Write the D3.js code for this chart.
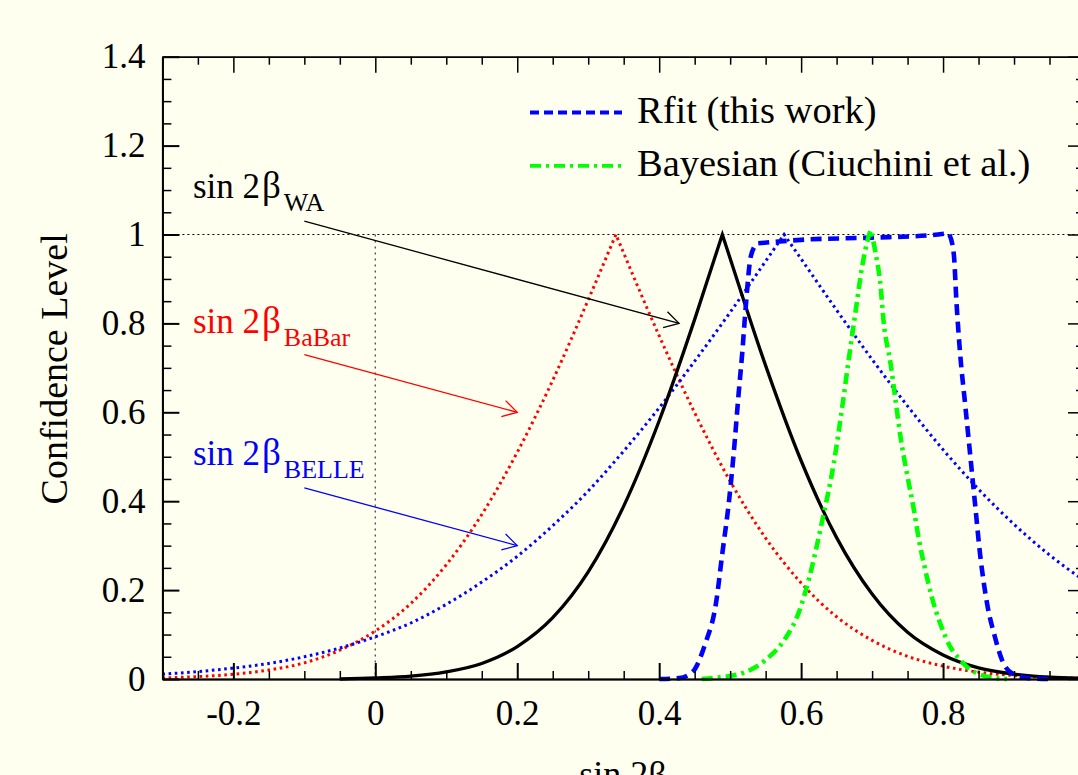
<!DOCTYPE html>
<html>
<head>
<meta charset="utf-8">
<title>sin 2beta confidence level</title>
<script src="https://cdn.jsdelivr.net/npm/d3@7"></script>
<style>
  body { margin: 0; background: #fffff0; }
  svg { display: block; font-family: "Liberation Serif", "Times New Roman", serif; }
  .axis path, .axis line { stroke: #000; }
  .axis text { fill: #000; font-family: "Liberation Serif", "Times New Roman", serif; }
  .curve { fill: none; }
</style>
</head>
<body>
<script>
// confidence level curves, [sin2beta, CL]
const waPoints = [[-0.05,0],[0,0.0024],[0.05,0.0064],[0.1,0.016],[0.15,0.035],[0.2,0.073],[0.25,0.138],[0.3,0.241],[0.35,0.389],[0.4,0.581],[0.45,0.809],[0.489,1.0],[0.5,0.946],[0.55,0.705],[0.6,0.491],[0.65,0.318],[0.7,0.191],[0.75,0.105],[0.8,0.054],[0.85,0.025],[0.9,0.011],[0.95,0.0042],[1.0,0.0015]];
const babarPoints = [[-0.3,0.0024],[-0.25,0.0054],[-0.2,0.0107],[-0.15,0.0203],[-0.1,0.0363],[-0.05,0.0649],[0,0.108],[0.05,0.170],[0.1,0.257],[0.15,0.370],[0.2,0.510],[0.25,0.672],[0.3,0.853],[0.339,1.0],[0.35,0.958],[0.4,0.772],[0.45,0.599],[0.5,0.445],[0.55,0.317],[0.6,0.216],[0.65,0.140],[0.7,0.087],[0.75,0.051],[0.8,0.029],[0.85,0.0155],[0.9,0.0078],[0.95,0.0037],[1.0,0.0016]];
const bellePoints = [[-0.3,0.011],[-0.25,0.0166],[-0.2,0.0246],[-0.15,0.035],[-0.1,0.050],[-0.05,0.0697],[0,0.095],[0.05,0.126],[0.1,0.168],[0.15,0.218],[0.2,0.276],[0.25,0.345],[0.3,0.423],[0.35,0.513],[0.4,0.610],[0.45,0.715],[0.5,0.825],[0.55,0.940],[0.576,1.0],[0.6,0.945],[0.65,0.830],[0.7,0.719],[0.75,0.614],[0.8,0.516],[0.85,0.427],[0.9,0.348],[0.95,0.279],[1.0,0.220]];
const rfitPoints = [[0.40,0],[0.428,0.002],[0.447,0.016],[0.465,0.08],[0.48,0.17],[0.489,0.283],[0.498,0.395],[0.505,0.508],[0.512,0.643],[0.517,0.733],[0.522,0.838],[0.529,0.95],[0.538,0.98],[0.6,0.988],[0.7,0.993],[0.78,0.998],[0.808,1.003],[0.815,0.958],[0.819,0.845],[0.824,0.733],[0.831,0.62],[0.838,0.508],[0.845,0.395],[0.852,0.283],[0.862,0.17],[0.873,0.095],[0.883,0.043],[0.897,0.013],[0.92,0.002],[0.95,0]];
const bayesPoints = [[0.46,0],[0.475,0.002],[0.517,0.013],[0.55,0.043],[0.578,0.092],[0.597,0.151],[0.611,0.225],[0.63,0.358],[0.646,0.485],[0.658,0.613],[0.667,0.718],[0.677,0.83],[0.686,0.928],[0.695,0.995],[0.698,1.01],[0.705,0.958],[0.712,0.883],[0.716,0.808],[0.726,0.71],[0.733,0.628],[0.74,0.545],[0.749,0.463],[0.759,0.38],[0.766,0.313],[0.775,0.245],[0.784,0.185],[0.796,0.125],[0.81,0.073],[0.824,0.043],[0.836,0.024],[0.873,0.002],[0.89,0]];

const xMajor = [-0.2, 0, 0.2, 0.4, 0.6, 0.8, 1.0];
const xLabels = ["-0.2", "0", "0.2", "0.4", "0.6", "0.8", ""];
const yMajor = [0, 0.2, 0.4, 0.6, 0.8, 1.0, 1.2, 1.4];
const yLabels = ["0", "0.2", "0.4", "0.6", "0.8", "1", "1.2", "1.4"];
const legendLabels = ["Rfit (this work)", "Bayesian (Ciuchini et al.)"];

// annotation labels: subscript, colour, label pos, arrow from, arrow to (data units)
const notes = [
  {sub: "WA",    color: "#000",    at: [-0.257, 1.081], from: [-0.1, 1.03], to: [0.428, 0.80]},
  {sub: "BaBar", color: "#ff0000", at: [-0.257, 0.779], from: [-0.1, 0.73], to: [0.2, 0.6]},
  {sub: "BELLE", color: "#0000ff", at: [-0.257, 0.481], from: [-0.1, 0.43], to: [0.2, 0.3]}
];

const width = 1078, height = 775;

const x = d3.scaleLinear().domain([-0.3, 1.0]).range([162.4, 1085]);
const y = d3.scaleLinear().domain([0, 1.4]).range([679, 56.7]);

const svg = d3.select('body').append('svg')
    .attr('width', width)
    .attr('height', height);

svg.append('rect')
    .attr('width', width).attr('height', height)
    .attr('fill', '#fffff0');

// reference lines
svg.append('line')
    .attr('x1', x(-0.3)).attr('x2', x(1.0))
    .attr('y1', y(1)).attr('y2', y(1))
    .attr('stroke', '#000').attr('stroke-width', 1.2)
    .attr('stroke-dasharray', '2,3');

svg.append('line')
    .attr('x1', x(0)).attr('x2', x(0))
    .attr('y1', y(1)).attr('y2', y(0))
    .attr('stroke', '#555').attr('stroke-width', 1.4)
    .attr('stroke-dasharray', '2,4');

// draw a curve keeping sharp peaks: split at the given indices
const line = d3.line().x(d => x(d[0])).y(d => y(d[1])).curve(d3.curveMonotoneX);
function cuspPath(points, splits) {
  let d = '', start = 0;
  splits.concat([points.length - 1]).forEach((end, i) => {
    let seg = line(points.slice(start, end + 1));
    if (i > 0) seg = seg.replace(/^M[^A-Za-z]*/, '');
    d += seg;
    start = end;
  });
  return d;
}
function peakIndex(points) {
  return d3.maxIndex(points, d => d[1]);
}

svg.append('path').attr('class', 'curve')
    .attr('d', cuspPath(babarPoints, [peakIndex(babarPoints)]))
    .attr('stroke', '#ff0000').attr('stroke-width', 3)
    .attr('stroke-dasharray', '2.6,3.6');

svg.append('path').attr('class', 'curve')
    .attr('d', cuspPath(bellePoints, [peakIndex(bellePoints)]))
    .attr('stroke', '#0000ff').attr('stroke-width', 3)
    .attr('stroke-dasharray', '2.6,3.6');

svg.append('path').attr('class', 'curve')
    .attr('d', cuspPath(waPoints, [peakIndex(waPoints)]))
    .attr('stroke', '#000').attr('stroke-width', 3.3);

svg.append('path').attr('class', 'curve')
    .attr('d', cuspPath(rfitPoints, [12, peakIndex(rfitPoints)]))
    .attr('stroke', '#0000ff').attr('stroke-width', 4.6)
    .attr('stroke-dasharray', '11,6.5');

svg.append('path').attr('class', 'curve')
    .attr('d', cuspPath(bayesPoints, [peakIndex(bayesPoints)]))
    .attr('stroke', '#00ff00').attr('stroke-width', 4.6)
    .attr('stroke-dasharray', '11,5,3,5');

// annotations with open arrows
notes.forEach(n => {
  const t = svg.append('text')
      .attr('x', x(n.at[0])).attr('y', y(n.at[1]))
      .attr('fill', n.color)
      .style('font-size', '35px');
  t.append('tspan').text('sin 2');
  t.append('tspan').attr('dx', 2).style('font-size', '37px').text('β');
  t.append('tspan').attr('dx', 3).attr('dy', 13).style('font-size', '26px').text(n.sub);

  const x1 = x(n.from[0]), y1 = y(n.from[1]), x2 = x(n.to[0]), y2 = y(n.to[1]);
  const ang = Math.atan2(y1 - y2, x1 - x2), len = 16.5, spread = Math.PI / 6;
  svg.append('line')
      .attr('x1', x1).attr('y1', y1).attr('x2', x2).attr('y2', y2)
      .attr('stroke', n.color).attr('stroke-width', 1.3);
  svg.append('polyline')
      .attr('points', [
        [x2 + len * Math.cos(ang - spread), y2 + len * Math.sin(ang - spread)],
        [x2, y2],
        [x2 + len * Math.cos(ang + spread), y2 + len * Math.sin(ang + spread)]
      ].map(p => p.join(',')).join(' '))
      .attr('fill', 'none').attr('stroke', n.color).attr('stroke-width', 1.3);
});

// legend
const legendStyles = [
  {color: '#0000ff', dash: '9,5'},
  {color: '#00ff00', dash: '11,5,3,5'}
];
legendLabels.forEach((label, i) => {
  const ly = 112.5 + i * 53.4;
  svg.append('line')
      .attr('x1', 530).attr('x2', 622).attr('y1', ly).attr('y2', ly)
      .attr('stroke', legendStyles[i].color).attr('stroke-width', 3.8)
      .attr('stroke-dasharray', legendStyles[i].dash);
  svg.append('text')
      .attr('x', 637).attr('y', ly + 10.5)
      .style('font-size', '38.5px')
      .text(label);
});

// axes
const xMinor = d3.range(-0.3, 1.0001, 0.05).map(v => +v.toFixed(2)).filter(v => !xMajor.some(m => Math.abs(m - v) < 1e-6));
const yMinor = d3.range(0, 1.4001, 0.05).map(v => +v.toFixed(2)).filter(v => !yMajor.some(m => Math.abs(m - v) < 1e-6));

function addAxis(axis, transform, cls, width) {
  const g = svg.append('g').attr('class', 'axis ' + cls)
      .attr('transform', transform)
      .call(axis);
  g.select('.domain').attr('stroke-width', width);
  g.selectAll('.tick line').attr('stroke-width', width);
  g.selectAll('text').style('font-size', '35px');
  return g;
}

// bottom
addAxis(d3.axisBottom(x).tickValues(xMinor).tickSize(-8).tickSizeOuter(0).tickFormat(''), `translate(0,${y(0)})`, 'xminor', 1.5);
addAxis(d3.axisBottom(x).tickValues(xMajor).tickSize(-16).tickSizeOuter(0).tickPadding(21)
    .tickFormat((d, i) => xLabels[i]), `translate(0,${y(0)})`, 'xmajor', 2);
// top
addAxis(d3.axisTop(x).tickValues(xMinor).tickSize(-8).tickSizeOuter(0).tickFormat(''), `translate(0,${y(1.4)})`, 'xminor', 1.5);
addAxis(d3.axisTop(x).tickValues(xMajor).tickSize(-16).tickSizeOuter(0).tickFormat(''), `translate(0,${y(1.4)})`, 'xmajor', 1.5);
// left
addAxis(d3.axisLeft(y).tickValues(yMinor).tickSize(-9).tickSizeOuter(0).tickFormat(''), `translate(${x(-0.3)},0)`, 'yminor', 1.5);
addAxis(d3.axisLeft(y).tickValues(yMajor).tickSize(-17).tickSizeOuter(0).tickPadding(17)
    .tickFormat((d, i) => yLabels[i]), `translate(${x(-0.3)},0)`, 'ymajor', 2);
// right
addAxis(d3.axisRight(y).tickValues(yMinor).tickSize(-9).tickSizeOuter(0).tickFormat(''), `translate(${x(1.0)},0)`, 'yminor', 1.5);
addAxis(d3.axisRight(y).tickValues(yMajor).tickSize(-17).tickSizeOuter(0).tickFormat(''), `translate(${x(1.0)},0)`, 'ymajor', 1.5);

svg.selectAll('.xmajor .tick text').attr('dy', '0.71em');

// axis titles
svg.append('text')
    .attr('transform', `translate(67,${(y(0) + y(1.4)) / 2 + 1}) rotate(-90)`)
    .attr('text-anchor', 'middle')
    .style('font-size', '38px')
    .text('Confidence Level');

svg.append('text')
    .attr('x', 623).attr('y', 786)
    .attr('text-anchor', 'middle')
    .style('font-size', '36px')
    .text('sin 2β');
</script>
</body>
</html>
